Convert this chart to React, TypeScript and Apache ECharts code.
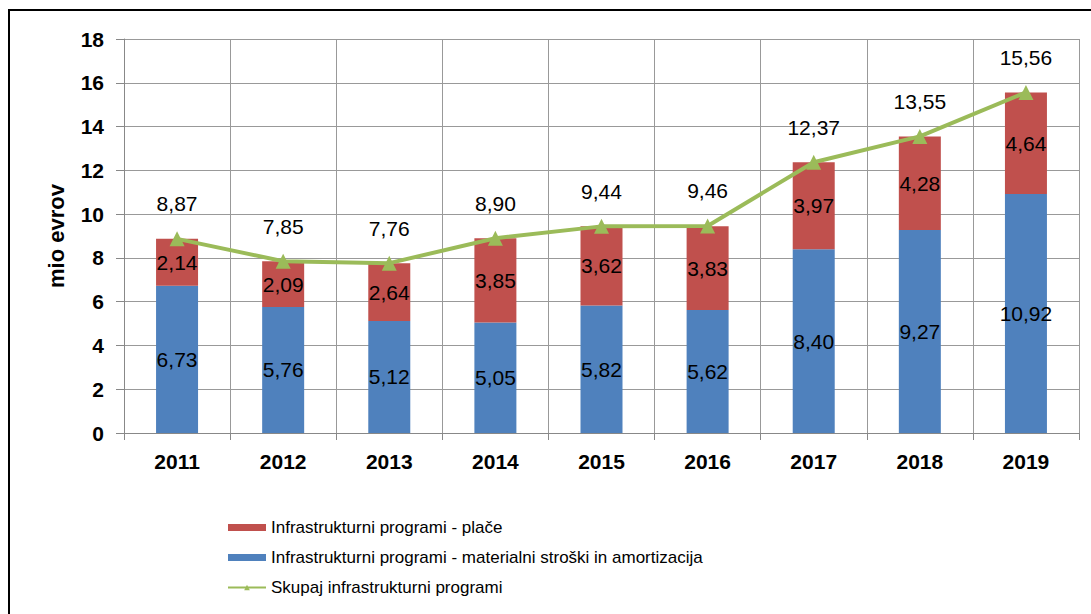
import React, { useEffect, useRef } from "react";
import * as echarts from "echarts";

const years = ["2011", "2012", "2013", "2014", "2015", "2016", "2017", "2018", "2019"];
const material = [6.73, 5.76, 5.12, 5.05, 5.82, 5.62, 8.4, 9.27, 10.92];
const wages = [2.14, 2.09, 2.64, 3.85, 3.62, 3.83, 3.97, 4.28, 4.64];
const totals = [8.87, 7.85, 7.76, 8.9, 9.44, 9.46, 12.37, 13.55, 15.56];

const nameWages = "Infrastrukturni programi - plače";
const nameMaterial = "Infrastrukturni programi - materialni stroški in amortizacija";
const nameTotal = "Skupaj infrastrukturni programi";

const fmt = (v: number) => v.toFixed(2).replace(".", ",");
const FONT = "Liberation Sans, Arial, sans-serif";

export default function App() {
  const ref = useRef<HTMLDivElement>(null);
  useEffect(() => {
    const chart = echarts.init(ref.current!, null, { renderer: "svg" });
    const labelStyle = {
      show: true,
      position: "inside" as const,
      color: "#000",
      fontSize: 21,
      fontFamily: FONT,
      formatter: (p: any) => fmt(p.value),
    };
    chart.setOption({
      animation: false,
      backgroundColor: "#fff",
      textStyle: { fontFamily: FONT },
      graphic: [
        {
          type: "rect",
          shape: { x: 9, y: 10, width: 1100, height: 700 },
          style: { fill: "none", stroke: "#000", lineWidth: 2 },
          silent: true,
        },
      ],
      grid: { left: 124, right: 12, top: 39, bottom: 181, containLabel: false },
      legend: {
        orient: "vertical",
        left: 222,
        top: 514,
        itemWidth: 38,
        itemHeight: 7,
        itemGap: 13,
        textStyle: { fontSize: 17, color: "#000", fontFamily: FONT },
        data: [
          { name: nameWages, icon: "rect" },
          { name: nameMaterial, icon: "rect" },
          { name: nameTotal },
        ],
      },
      xAxis: {
        type: "category",
        data: years,
        boundaryGap: true,
        axisLine: { show: true, lineStyle: { color: "#888", width: 1 } },
        axisTick: { show: true, length: 7, lineStyle: { color: "#888" } },
        splitLine: { show: true, lineStyle: { color: "#999", width: 1 } },
        axisLabel: { color: "#000", fontSize: 21, fontWeight: "bold", margin: 18, fontFamily: FONT },
      },
      yAxis: {
        type: "value",
        min: 0,
        max: 18,
        interval: 2,
        name: "mio evrov",
        nameLocation: "middle",
        nameGap: 57,
        nameRotate: 90,
        nameTextStyle: { color: "#000", fontSize: 22, fontWeight: "bold", fontFamily: FONT },
        axisLine: { show: true, lineStyle: { color: "#888", width: 1 } },
        axisTick: { show: true, length: 8, lineStyle: { color: "#888" } },
        splitLine: { show: true, lineStyle: { color: "#999", width: 1 } },
        axisLabel: { color: "#000", fontSize: 21, fontWeight: "bold", margin: 20, fontFamily: FONT },
      },
      series: [
        {
          name: nameMaterial,
          type: "bar",
          stack: "s",
          data: material,
          barWidth: 42,
          itemStyle: { color: "#4F81BD" },
          label: labelStyle,
        },
        {
          name: nameWages,
          type: "bar",
          stack: "s",
          data: wages,
          barWidth: 42,
          itemStyle: { color: "#C0504D" },
          label: labelStyle,
        },
        {
          name: nameTotal,
          type: "line",
          data: totals,
          symbol: "triangle",
          symbolSize: 15,
          lineStyle: { color: "#9BBB59", width: 4 },
          itemStyle: { color: "#9BBB59" },
          label: {
            show: true,
            position: "top",
            distance: 17,
            color: "#000",
            fontSize: 21,
            fontFamily: FONT,
            formatter: (p: any) => fmt(p.value),
          },
          z: 5,
        },
      ],
    });
    return () => chart.dispose();
  }, []);
  return (
    <div
      ref={ref}
      style={{ position: "fixed", left: 0, top: 0, width: 1091, height: 614 }}
    />
  );
}
